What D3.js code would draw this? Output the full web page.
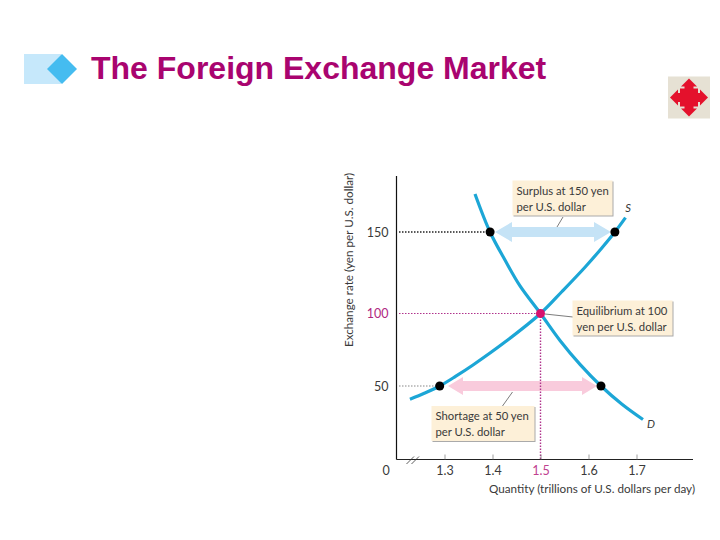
<!DOCTYPE html>
<html>
<head>
<meta charset="utf-8">
<title>The Foreign Exchange Market</title>
<script src="https://cdn.jsdelivr.net/npm/d3@7"></script>
<style>
    html, body { margin: 0; padding: 0; background: #fff; }
    svg { display: block; }
    .lbl { font-family: Lato, "Open Sans", sans-serif; font-weight: 400; font-size: 11.3px; fill: #3a3a3a; }
</style>
</head>
<body>
<svg></svg>
<script>
const titleText = "The Foreign Exchange Market";
const xTicks = [1.3, 1.4, 1.5, 1.6, 1.7];
const yTicks = [50, 100, 150];

// curves: quantity, yen per dollar
const demandQ = [1.3635, 1.3948, 1.426, 1.4573, 1.5, 1.5406, 1.5823, 1.626, 1.6698, 1.7135];
const demandR = [173.3, 150, 132.8, 116.9, 100, 81.4, 64.9, 50, 37.6, 27.2];
const supplyQ = [1.228, 1.259, 1.29, 1.3229, 1.3594, 1.426, 1.5, 1.5448, 1.5927, 1.626, 1.655, 1.6771];
const supplyR = [41, 45.2, 50, 56.6, 64.5, 80.3, 100, 113.5, 128.4, 139.6, 150, 158.8];

// the marked points
const pointQ = [1.395, 1.655, 1.5, 1.29, 1.626];
const pointR = [150, 150, 100, 50, 50];
const pointColor = ["#000", "#000", "#d6126e", "#000", "#000"];

const width = 720;
const height = 540;
const svg = d3.select("svg").attr("width", width).attr("height", height);

const pink = "#a9046f";
const curveColor = "#1ca6d6";

// the y axis of the original is not evenly spaced, so the scale has several stops
const x = d3.scaleLinear().domain([1.3, 1.7]).range([444.5, 636.5]);
const y = d3.scaleLinear().domain([0, 50, 100, 150, 200]).range([459.5, 386, 313.5, 232, 150.5]);

// header
svg.append("rect").attr("x", 24).attr("y", 54).attr("width", 37).attr("height", 30).attr("fill", "#c6e8fb");
svg.append("path").attr("d", "M62 54L77 69L62 84L47 69Z").attr("fill", "#45bcf0");
svg.append("text")
    .attr("x", 91).attr("y", 79)
    .attr("font-family", "Liberation Sans, Arial, sans-serif")
    .attr("font-weight", "bold")
    .attr("font-size", 32)
    .attr("fill", pink)
    .text(titleText);

// move icon
const icon = svg.append("g").attr("transform", "translate(689,97.5)");
icon.append("rect").attr("x", -21).attr("y", -21).attr("width", 42).attr("height", 42).attr("fill", "#e6e1d4");
icon.append("path")
    .attr("d", "M0 -19L8 -11H4.5V-9H9V-4.5H11V-8L19 0L11 8V4.5H9V9H4.5V11H8L0 19L-8 11H-4.5V9H-9V4.5H-11V8L-19 0L-11 -8V-4.5H-9V-9H-4.5V-11H-8Z")
    .attr("fill", "#e4112c");

// arrows for surplus and shortage
const arrow = (x0, x1, yy, head, half, color) => {
    const p = d3.path();
    p.moveTo(x0, yy);
    p.lineTo(x0 + head, yy - half);
    p.lineTo(x0 + head, yy - 5);
    p.lineTo(x1 - head, yy - 5);
    p.lineTo(x1 - head, yy - half);
    p.lineTo(x1, yy);
    p.lineTo(x1 - head, yy + half);
    p.lineTo(x1 - head, yy + 5);
    p.lineTo(x0 + head, yy + 5);
    p.lineTo(x0 + head, yy + half);
    p.closePath();
    svg.append("path").attr("d", p.toString()).attr("fill", color);
};
arrow(495, 611, y(150), 17, 10, "#c5e3f6");
arrow(448, 597, y(50), 15, 9, "#f9cbdc");

// dotted guides
const guide = (x1, y1, x2, y2, color, w) => {
    svg.append("line")
        .attr("x1", x1).attr("y1", y1).attr("x2", x2).attr("y2", y2)
        .attr("stroke", color).attr("stroke-width", w)
        .attr("stroke-dasharray", "1.5 1.5");
};
guide(399, y(150), x(pointQ[0]), y(150), "#222", 1.4);
guide(399, y(100), x(1.5), y(100), "#b0338c", 1.2);
guide(x(1.5), y(100), x(1.5), y(0), "#b0338c", 1.4);
guide(399, y(50), x(pointQ[3]), y(50), "#888", 1.1);

// demand and supply curves
const line = d3.line().x(d => x(d[0])).y(d => y(d[1])).curve(d3.curveCatmullRom);
[[demandQ, demandR], [supplyQ, supplyR]].forEach(c => {
    svg.append("path")
        .datum(d3.zip(c[0], c[1]))
        .attr("d", line)
        .attr("fill", "none")
        .attr("stroke", curveColor)
        .attr("stroke-width", 3.2);
});

// axes
const xAxis = svg.append("g")
    .attr("transform", `translate(0,${y(0)})`)
    .call(d3.axisBottom(x).tickValues(xTicks).tickSizeInner(-5).tickSizeOuter(0).tickPadding(7).tickFormat(d3.format(".1f")));
xAxis.select(".domain").attr("d", "M396.5,0H693").attr("stroke", "#222").attr("stroke-width", 1.2);
xAxis.selectAll(".tick line").attr("stroke", "#777").attr("stroke-width", 0.7);
xAxis.selectAll("text").attr("class", "lbl")
    .style("font-size", "12.5px")
    .style("fill", d => d === 1.5 ? "#c0408f" : "#3a3a3a");

const yAxis = svg.append("g")
    .attr("transform", "translate(396.5,0)")
    .call(d3.axisLeft(y).tickValues(yTicks).tickSize(0).tickPadding(8));
yAxis.select(".domain").attr("d", `M0,176V${y(0)}`).attr("stroke", "#111").attr("stroke-width", 1.2);
yAxis.selectAll("text").attr("class", "lbl")
    .style("font-size", "12.5px")
    .style("fill", d => d === 100 ? "#b0287f" : "#3a3a3a");

// axis break
[0, 5].forEach(d => {
    svg.append("line")
        .attr("x1", 406.5 + d).attr("y1", 464).attr("x2", 414 + d).attr("y2", 456.5)
        .attr("stroke", "#333").attr("stroke-width", 0.8);
});

svg.append("text").attr("class", "lbl").attr("x", 386).attr("y", 475)
    .attr("text-anchor", "middle").style("font-size", "12.5px").text("0");
svg.append("text").attr("class", "lbl").attr("x", 695).attr("y", 493)
    .attr("text-anchor", "end").style("font-size", "11.7px").text("Quantity (trillions of U.S. dollars per day)");
svg.append("text").attr("class", "lbl")
    .attr("transform", "translate(353,260) rotate(-90)")
    .attr("text-anchor", "middle").style("font-size", "11.7px").text("Exchange rate (yen per U.S. dollar)");

// curve names
svg.append("text").attr("class", "lbl").attr("x", 628).attr("y", 212)
    .attr("text-anchor", "middle").attr("font-style", "italic").text("S");
svg.append("text").attr("class", "lbl").attr("x", 651).attr("y", 428)
    .attr("text-anchor", "middle").attr("font-style", "italic").text("D");

// callouts
const callout = (bx, by, bw, bh, lines, lx1, ly1, lx2, ly2) => {
    svg.append("line")
        .attr("x1", lx1).attr("y1", ly1).attr("x2", lx2).attr("y2", ly2)
        .attr("stroke", "#444").attr("stroke-width", 0.7);
    svg.append("rect").attr("x", bx + 1).attr("y", by + 1).attr("width", bw).attr("height", bh).attr("fill", "#aaa");
    svg.append("rect").attr("x", bx).attr("y", by).attr("width", bw).attr("height", bh).attr("fill", "#fdf0d8");
    lines.forEach((t, i) => {
        svg.append("text").attr("class", "lbl")
            .attr("x", bx + 4).attr("y", by + 14 + i * 16).text(t);
    });
};
callout(512.5, 180.5, 100, 35, ["Surplus at 150 yen", "per U.S. dollar"], 563, 217, 557, 227);
callout(572.5, 300.5, 100, 35, ["Equilibrium at 100", "yen per U.S. dollar"], 545, 314, 573, 317);
callout(431.5, 406, 103, 35, ["Shortage at 50 yen", "per U.S. dollar"], 512.5, 392, 502.5, 406);

// points
svg.selectAll("circle.pt")
    .data(d3.range(pointQ.length))
    .join("circle")
    .attr("class", "pt")
    .attr("cx", i => x(pointQ[i]))
    .attr("cy", i => y(pointR[i]))
    .attr("r", 4.5)
    .attr("fill", i => pointColor[i]);
</script>
</body>
</html>
